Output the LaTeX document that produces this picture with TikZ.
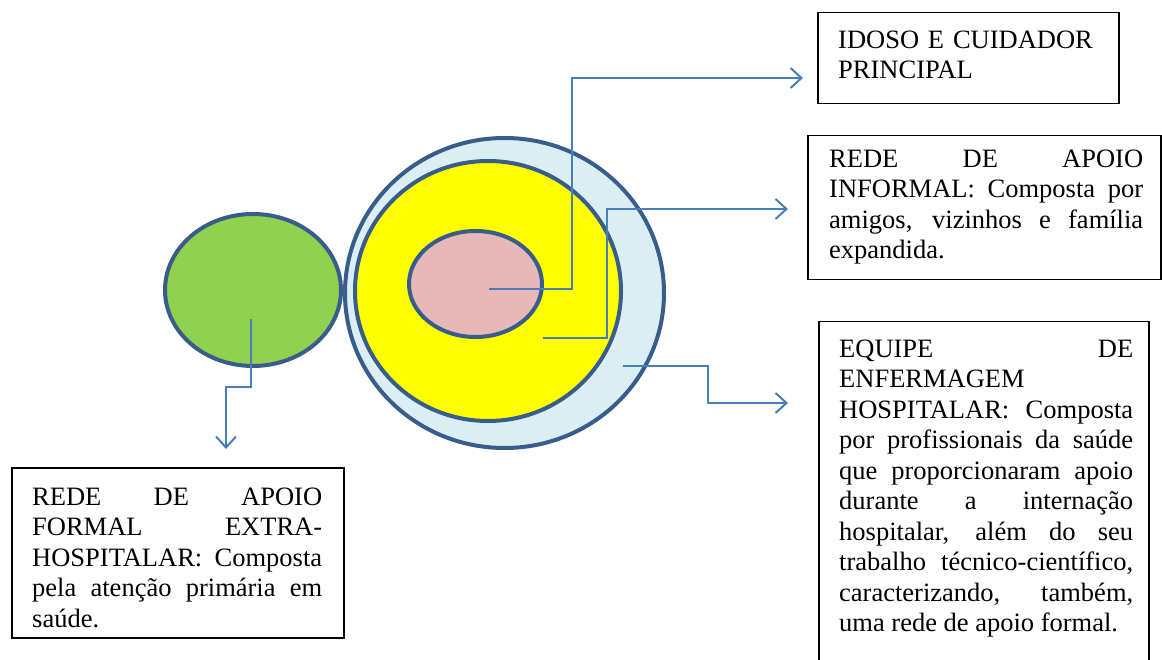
\documentclass[tikz,border=0pt]{standalone}
\usepackage{fontspec}
\setmainfont{Liberation Serif}
\usetikzlibrary{shapes.geometric,arrows.meta,calc}
\definecolor{rim}{HTML}{385D8A}
\definecolor{conncol}{HTML}{4A7EBB}
\definecolor{greenfill}{HTML}{92D050}
\definecolor{yellowfill}{HTML}{FFFF00}
\definecolor{pinkfill}{HTML}{E6B9B8}
\definecolor{bluefill}{HTML}{DBEEF4}
\tikzset{
  blob/.style={ellipse, draw=rim, line width=4pt, inner sep=0pt},
  box/.style={draw=black, line width=1.5pt, anchor=north west, inner sep=0pt},
  txt/.style={anchor=north west, inner sep=0pt, text width=#1, align=justify,
    font=\fontsize{26.5}{30.5}\selectfont},
  conn/.style={draw=conncol, line width=2pt, -{Straight Barb[length=11pt,width=20pt,line width=2pt]}},
}
\begin{document}
\hyphenpenalty=10000
\exhyphenpenalty=10000
\emergencystretch=20pt
\hfuzz=20pt
\begin{tikzpicture}[x=1pt,y=-1pt]
\useasboundingbox (0,0) rectangle (1162,660);
\clip (0,0) rectangle (1162,660);
\fill[white] (0,0) rectangle (1162,660);

% circles
\node[blob, fill=greenfill, minimum width=176pt, minimum height=152pt] (green) at (253,290) {};
\node[blob, fill=bluefill, minimum width=319pt, minimum height=310pt] (outer) at (504.5,293) {};
\node[blob, fill=yellowfill, minimum width=266pt, minimum height=260pt] (yellow) at (488,291) {};
\node[blob, fill=pinkfill, minimum width=133pt, minimum height=106pt] (pink) at (475.5,284) {};

% boxes
\node[box, minimum width=301pt, minimum height=91pt] (b1) at (817,12) {};
\node[box, minimum width=353pt, minimum height=144pt] (b2) at (807,135) {};
\node[box, minimum width=332pt, minimum height=170pt] (b3) at (11,467) {};
\node[box, minimum width=330pt, minimum height=360pt] (b4) at (818,321) {};

% texts
\node[txt=280pt, align=left] (t1) at (838,30.6) {IDOSO E CUIDADOR\\ PRINCIPAL};
\node[txt=314pt] (t2) at (829,149.6) {REDE DE APOIO\linebreak INFORMAL: Composta por\linebreak amigos, vizinhos e família\linebreak expandida.};
\node[txt=290pt] (t3) at (32,487.6) {REDE DE APOIO\linebreak FORMAL EXTRA-\linebreak HOSPITALAR: Composta\linebreak pela atenção primária em\linebreak saúde.};
\node[txt=294pt] (t4) at (839,339.6) {EQUIPE DE\linebreak ENFERMAGEM\newline HOSPITALAR: Composta\linebreak por profissionais da saúde\linebreak que proporcionaram apoio\linebreak durante a internação\linebreak hospitalar, além do seu\linebreak trabalho técnico-científico,\linebreak caracterizando, também,\linebreak uma rede de apoio formal.};

% connector anchors
\coordinate (s1) at (489,289);
\coordinate (s2) at (543,338);
\coordinate (s3) at (623,366);
\coordinate (s4) at (251,319);
\coordinate (e1) at (803,78);
\coordinate (e2) at (788,209);
\coordinate (e3) at (788,403);
\coordinate (e4) at (226,449);

\draw[conn] (s1) -| (572,78) -- (e1);
\draw[conn] (s2) -| (607,209) -- (e2);
\draw[conn] (s3) -| (708,403) -- (e3);
\draw[conn] (s4) |- (226,387) -- (e4);
\end{tikzpicture}
\end{document}
